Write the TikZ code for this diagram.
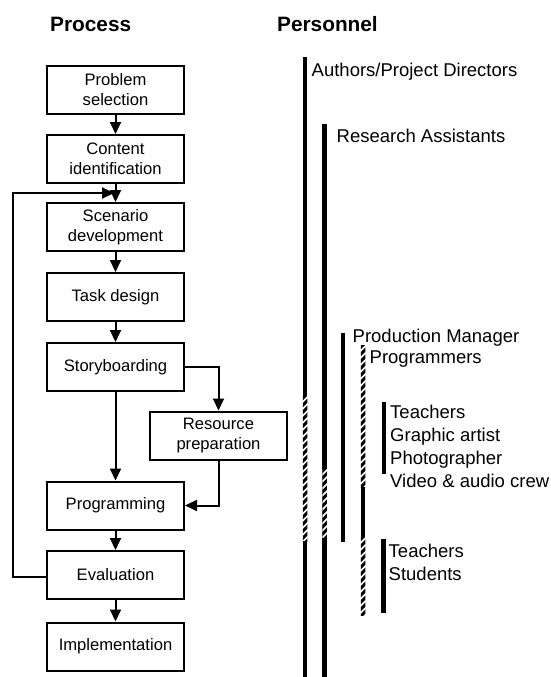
\documentclass[tikz,border=0pt]{standalone}
\usepackage{fontspec}
\setmainfont{Liberation Sans}
\usetikzlibrary{arrows.meta}

% hatched (striped) segment of a personnel bar: x, top y, bottom y
\newcommand\hatchbar[3]{%
  \begin{scope}
    \clip ({#1-2.25},#2) rectangle ({#1+2.25},#3);
    \fill[white] ({#1-2.25},#2) rectangle ({#1+2.25},#3);
    \foreach \yy in {-7,0,...,182}
      \draw[line width=3.1pt] ({#1-4},{#2+\yy+4}) -- ({#1+4},{#2+\yy-4});
  \end{scope}}

\begin{document}
\begin{tikzpicture}[x=1pt,y=-1pt,
  stepbox/.style={draw,line width=2pt,minimum width=137pt,minimum height=48pt,
    align=center,inner sep=1pt,font=\fontsize{16.6}{20}\selectfont},
  flow/.style={line width=2pt,-{Triangle[length=12pt,width=11pt]}},
  bar/.style={line width=4.5pt},
  who/.style={anchor=base west,inner sep=0pt,font=\fontsize{18.5}{23}\selectfont},
  head/.style={anchor=base west,inner sep=0pt,font=\bfseries\fontsize{20.8}{25}\selectfont}]
\useasboundingbox (0,0) rectangle (550,677);

% column headings
\node[head] (hproc) at (50,32) {Process};
\node[head] (hpers) at (277,32) {Personnel};

% process steps
\node[stepbox] (p1) at (115.5,90)  {Problem\\selection};
\node[stepbox] (p2) at (115.5,159) {Content\\identification};
\node[stepbox] (p3) at (115.5,227) {Scenario\\development};
\node[stepbox] (p4) at (115.5,297) {Task design};
\node[stepbox] (p5) at (115.5,367) {Storyboarding};
\node[stepbox] (p6) at (218.5,435.5) {Resource\\preparation};
\node[stepbox] (p7) at (115.5,505.5) {Programming};
\node[stepbox] (p8) at (115.5,575) {Evaluation};
\node[stepbox] (p9) at (115.5,646.5) {Implementation};

% flow between steps
\draw[flow] (p1) -- (p2);
\draw[flow] (p2) -- (p3);
\draw[flow] (p3) -- (p4);
\draw[flow] (p4) -- (p5);
\draw[flow] (p5) -- (p7);
\draw[flow] (p5.east) -| (p6.north);
\draw[flow] (p6.south) |- (p7.east);
\draw[flow] (p7) -- (p8);
\draw[flow] (p8) -- (p9);

% feedback loop from evaluation back to scenario development
\coordinate (fbl) at (13,577);
\coordinate (fbt) at (114,193);
\draw[flow] (p8.west |- fbl) -- (fbl) |- (fbt);

% personnel bars
\draw[bar] (305,57) -- (305,677);
\hatchbar{305}{396}{541}
\draw[bar] (324.5,124) -- (324.5,677);
\hatchbar{324.5}{469}{538}
\draw[bar] (343,333) -- (343,542);
\draw[bar] (363,487) -- (363,537);
\hatchbar{363}{345}{487}
\hatchbar{363}{537}{615}
\draw[bar] (384,402) -- (384,474);
\draw[bar] (383.5,539) -- (383.5,613);

% personnel labels
\node[who] (w1) at (311.5,76) {Authors/Project Directors};
\node[who] (w2) at (336.5,142) {Research Assistants};
\node[who] (w3) at (352.5,342) {Production Manager};
\node[who] (w4) at (369.5,363.5) {Programmers};
\node[who] (w5) at (390,418) {Teachers};
\node[who] (w6) at (390,441) {Graphic artist};
\node[who] (w7) at (390,464) {Photographer};
\node[who] (w8) at (390,487) {Video \& audio crew};
\node[who] (w9) at (388.5,557) {Teachers};
\node[who] (w10) at (388.5,580) {Students};
\end{tikzpicture}
\end{document}
